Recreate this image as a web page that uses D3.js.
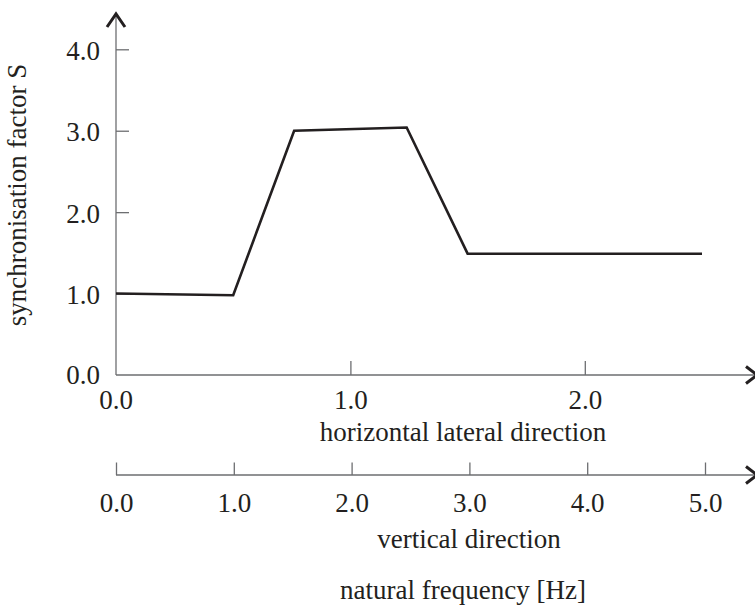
<!DOCTYPE html>
<html>
<head>
<meta charset="utf-8">
<script src="https://cdn.jsdelivr.net/npm/d3@7"></script>
<style>
  body { margin: 0; background: #fff; }
  svg text { font-family: "Liberation Serif", "Times New Roman", serif; font-size: 27px; fill: #231f20; }
  .axis path, .axis line { stroke: #6d6e71; stroke-width: 1.3; }
  .arrow { fill: none; stroke: #231f20; stroke-width: 3; }
  .line { fill: none; stroke: #231f20; stroke-width: 2.6; stroke-linejoin: miter; }
</style>
</head>
<body>
<svg id="chart" width="755" height="607"></svg>
<script>
// frequency (horizontal lateral direction) [Hz] and synchronisation factor S
var freqH = [0.0, 0.5, 0.76, 1.24, 1.5, 2.5];
var factorS = [1.0, 0.98, 3.0, 3.04, 1.49, 1.49];

var yTicks = [1, 2, 3, 4];
var xTicksH = [1, 2];
var xTicksV = [0, 1, 2, 3, 4, 5];

var svg = d3.select("#chart"),
    x0 = 116, yBase = 375, yBase2 = 475;

var x = d3.scaleLinear().domain([0, 2.5]).range([x0, 702]);
var xv = d3.scaleLinear().domain([0, 5]).range([x0, 705]);
var y = d3.scaleLinear().domain([0, 4]).range([yBase, 49.3]);

var fmt = d3.format(".1f");

// y axis
var gy = svg.append("g")
    .attr("class", "axis")
    .attr("transform", "translate(" + x0 + ",0)")
    .call(d3.axisLeft(y).tickValues(yTicks).tickSize(-13).tickSizeOuter(0).tickPadding(16).tickFormat(fmt));
gy.select(".domain").remove();
gy.selectAll("text").attr("dy", "0.38em").attr("fill", null);
gy.append("text")
    .attr("x", -16).attr("y", yBase).attr("dy", "0.34em")
    .style("text-anchor", "end")
    .text(fmt(0));
svg.append("line")
    .attr("x1", x0).attr("x2", x0).attr("y1", yBase).attr("y2", 14)
    .style("stroke", "#6d6e71").style("stroke-width", 1.3);

// horizontal lateral direction axis
var gx = svg.append("g")
    .attr("class", "axis")
    .attr("transform", "translate(0," + yBase + ")")
    .call(d3.axisBottom(x).tickValues(xTicksH).tickSize(-14).tickSizeOuter(0).tickPadding(15).tickFormat(fmt));
gx.select(".domain").remove();
gx.selectAll("text").attr("fill", null);
gx.append("text")
    .attr("x", x(0)).attr("y", 15).attr("dy", "0.71em")
    .style("text-anchor", "middle")
    .text(fmt(0));
svg.append("line")
    .attr("x1", x0).attr("x2", 755).attr("y1", yBase).attr("y2", yBase)
    .style("stroke", "#6d6e71").style("stroke-width", 1.3);

// vertical direction axis
var gv = svg.append("g")
    .attr("class", "axis")
    .attr("transform", "translate(0," + yBase2 + ")")
    .call(d3.axisBottom(xv).tickValues(xTicksV).tickSize(-12.5).tickSizeOuter(0).tickPadding(18).tickFormat(fmt));
gv.select(".domain").remove();
gv.selectAll("text").attr("fill", null);
svg.append("line")
    .attr("x1", x0).attr("x2", 755).attr("y1", yBase2).attr("y2", yBase2)
    .style("stroke", "#6d6e71").style("stroke-width", 1.3);

// arrow heads
svg.append("path").attr("class", "arrow")
    .attr("d", "M" + (x0 - 9) + ",27 L" + x0 + ",14 L" + (x0 + 9) + ",27");
[yBase, yBase2].forEach(function(yy) {
  svg.append("path").attr("class", "arrow")
      .attr("d", "M746," + (yy - 8.5) + " L757," + yy + " L746," + (yy + 8.5));
});

// data line
var line = d3.line()
    .x(function(d, i) { return x(freqH[i]); })
    .y(function(d) { return y(d); });

svg.append("path")
    .datum(factorS)
    .attr("class", "line")
    .attr("d", line);

// titles
svg.append("text")
    .attr("x", 463).attr("y", 441)
    .style("text-anchor", "middle")
    .text("horizontal lateral direction");
svg.append("text")
    .attr("x", 469).attr("y", 548)
    .style("text-anchor", "middle")
    .text("vertical direction");
svg.append("text")
    .attr("x", 463).attr("y", 599)
    .style("text-anchor", "middle")
    .text("natural frequency [Hz]");
svg.append("text")
    .attr("transform", "translate(26,195) rotate(-90)")
    .style("text-anchor", "middle")
    .text("synchronisation factor S");
</script>
</body>
</html>
